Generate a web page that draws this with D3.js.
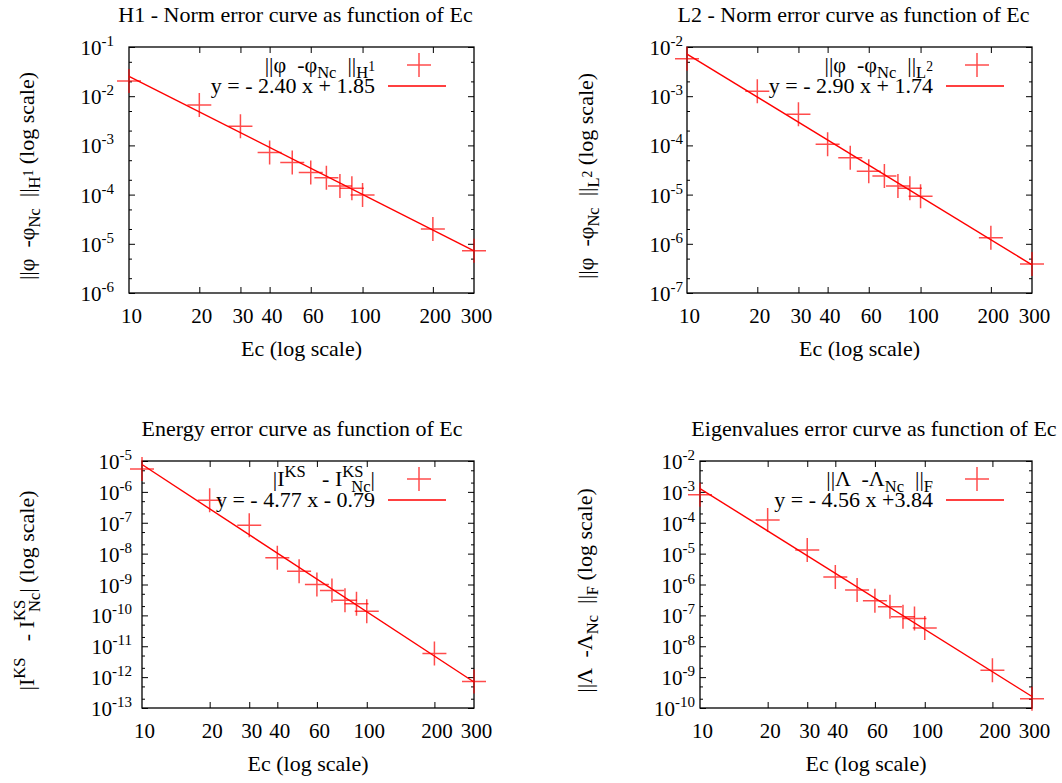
<!DOCTYPE html>
<html>
<head>
<meta charset="utf-8">
<script src="https://cdn.jsdelivr.net/npm/d3@7"></script>
<style>
  body { margin: 0; background: #fff; }
  #chart, #chart text, #chart tspan { font-family: 'Liberation Serif', 'Times New Roman', Times, serif !important; }
  #chart text { fill: #000; white-space: pre; }
</style>
</head>
<body>
<svg id="chart" width="1062" height="783" font-family="Liberation Serif"></svg>
<script>
// Convergence curves vs cutoff energy Ec (log-log), four gnuplot-style panels

const ecValues = [10, 20, 30, 40, 50, 60, 70, 80, 90, 100, 200, 300];
const xTickValues = [10, 20, 30, 40, 60, 100, 200, 300];

const h1Errors = [2.04e-2, 6.6e-3, 2.45e-3, 7.2e-4, 4.5e-4, 2.8e-4, 2.2e-4, 1.5e-4, 1.35e-4, 9.8e-5, 2.0e-5, 7.2e-6];
const l2Errors = [5.8e-3, 1.26e-3, 4.3e-4, 1.06e-4, 5.6e-5, 3.0e-5, 2.4e-5, 1.5e-5, 1.35e-5, 9.3e-6, 1.32e-6, 3.9e-7];
const energyErrors = [5.5e-6, 5.4e-7, 8.3e-8, 7.4e-9, 2.7e-9, 1.0e-9, 6.4e-10, 3.1e-10, 2.4e-10, 1.37e-10, 5.8e-12, 7.2e-13];
const eigErrors = [8.0e-4, 1.23e-4, 1.31e-5, 1.74e-6, 6.6e-7, 3.0e-7, 1.9e-7, 9.0e-8, 7.9e-8, 3.9e-8, 1.66e-9, 2.0e-10];

// fits: ln(err) = slope * ln(Ec) + intercept
const h1Fit = [-2.40, 1.85];
const l2Fit = [-2.90, 1.74];
const energyFit = [-4.77, -0.79];
const eigFit = [-4.56, 3.84];

const titles = [
  'H1 - Norm error curve as function of Ec',
  'L2 - Norm error curve as function of Ec',
  'Energy error curve as function of Ec',
  'Eigenvalues error curve as function of Ec'
];
const fitLabels = ['y = - 2.40 x + 1.85', 'y = - 2.90 x + 1.74', 'y = - 4.77 x - 0.79', 'y = - 4.56 x +3.84'];
const yExponents = [[-6, -1], [-7, -2], [-13, -5], [-10, -2]];

// rich-text pieces: [text, level, dx]
const normLabels = [
  [['||φ  -φ', 'n'], ['Nc', 'sub'], ['  ||', 'n'], ['H', 'sub'], ['1', 'subsup']],
  [['||φ  -φ', 'n'], ['Nc', 'sub'], ['  ||', 'n'], ['L', 'sub'], ['2', 'subsup']],
  [['|I', 'n'], ['KS', 'sup'], ['   - I', 'n'], ['KS', 'sup'], ['Nc', 'sub', -12], ['|', 'n']],
  [['||Λ  -Λ', 'n'], ['Nc', 'sub'], ['  ||', 'n'], ['F', 'sub']]
];

const series = [h1Errors, l2Errors, energyErrors, eigErrors];
const fits = [h1Fit, l2Fit, energyFit, eigFit];

const layout = [
  { left: 129, right: 474, top: 47, bottom: 293, labGap: 15, yLab: 95, tShift: -6 },
  { left: 687, right: 1032, top: 47, bottom: 293, labGap: 4, yLab: 94, tShift: -6 },
  { left: 142, right: 474, top: 461, bottom: 708, labGap: 10, yLab: 108, tShift: -6 },
  { left: 700, right: 1032, top: 461, bottom: 708, labGap: 5, yLab: 108, tShift: 8 }
];

const RED = '#ff0000';
const FS = 22;
const TICK_FS = 21;
const SERIF = "'Liberation Serif', 'Times New Roman', Times, serif";
const svg = d3.select('#chart');

function rich(text, parts, base) {
  let cur = 0;
  parts.forEach(p => {
    const lvl = p[1];
    const off = lvl === 'sub' ? 6 : lvl === 'sup' ? -9 : lvl === 'subsup' ? -1 : 0;
    const size = lvl === 'n' ? base : lvl === 'subsup' ? base * 0.62 : base * 0.75;
    const ts = text.append('tspan').attr('dy', off - cur).attr('font-size', size).text(p[0]);
    if (p[2]) ts.attr('dx', p[2]);
    cur = off;
  });
  if (cur !== 0) text.append('tspan').attr('dy', -cur).text('');
}

layout.forEach((L, i) => {
  const g = svg.append('g');
  const x = d3.scaleLog().domain([10, 300]).range([L.left, L.right]);
  const [e0, e1] = yExponents[i];
  const y = d3.scaleLog().domain([Math.pow(10, e0), Math.pow(10, e1)]).range([L.bottom, L.top]);

  const decades = d3.range(e0, e1 + 1).map(e => Math.pow(10, e));
  const minors = [];
  d3.range(e0, e1).forEach(e => { minors.push(2 * Math.pow(10, e), 5 * Math.pow(10, e)); });
  const innerX = xTickValues.filter(v => v > 10 && v < 300);

  // ticks
  const addAxis = (axis, tx, ty) => {
    const a = g.append('g').attr('transform', `translate(${tx},${ty})`).call(axis);
    a.attr('font-family', SERIF);
    a.select('.domain').remove();
    a.selectAll('.tick line').attr('stroke', '#000').attr('stroke-width', 1);
    return a;
  };
  addAxis(d3.axisLeft(y).tickValues(decades).tickSizeInner(-6).tickSizeOuter(0).tickFormat(''), L.left, 0);
  addAxis(d3.axisLeft(y).tickValues(minors).tickSizeInner(-3).tickSizeOuter(0).tickFormat(''), L.left, 0);
  addAxis(d3.axisRight(y).tickValues(decades).tickSizeInner(-6).tickSizeOuter(0).tickFormat(''), L.right, 0);
  addAxis(d3.axisRight(y).tickValues(minors).tickSizeInner(-3).tickSizeOuter(0).tickFormat(''), L.right, 0);
  addAxis(d3.axisTop(x).tickValues(innerX).tickSizeInner(-6).tickSizeOuter(0).tickFormat(''), 0, L.top);
  const xb = addAxis(d3.axisBottom(x).tickValues(xTickValues).tickSizeInner(-6).tickSizeOuter(0)
    .tickPadding(15).tickFormat(d3.format('d')), 0, L.bottom);
  xb.selectAll('.tick line').filter(d => d === 10 || d === 300).remove();
  xb.selectAll('.tick text').attr('font-size', TICK_FS).attr('fill', '#000').attr('dx', 2)
    .style('font-family', SERIF);

  // y tick labels 10^n
  decades.forEach((v, k) => {
    const t = g.append('text').attr('x', L.left - L.labGap).attr('y', y(v) + 8)
      .attr('text-anchor', 'end').attr('font-size', TICK_FS).style('font-family', SERIF);
    t.append('tspan').text('10');
    t.append('tspan').attr('dy', -9).attr('font-size', 15).text(String(e0 + k));
  });

  // frame
  g.append('rect').attr('x', L.left).attr('y', L.top)
    .attr('width', L.right - L.left).attr('height', L.bottom - L.top)
    .attr('fill', 'none').attr('stroke', '#000').attr('stroke-width', 1.3);

  // fit line
  const [a, b] = fits[i];
  const fitPts = [10, 300].map(e => [e, Math.exp(b + a * Math.log(e))]);
  g.append('path').datum(fitPts)
    .attr('d', d3.line().x(d => x(d[0])).y(d => y(d[1])))
    .attr('fill', 'none').attr('stroke', RED).attr('stroke-width', 1.4);

  // points
  const cross = (cx, cy) => `M${cx - 12},${cy}H${cx + 12}M${cx},${cy - 12}V${cy + 12}`;
  g.append('g').selectAll('path').data(ecValues.map((e, k) => [e, series[i][k]])).join('path')
    .attr('d', d => cross(x(d[0]), y(d[1])))
    .attr('fill', 'none').attr('stroke', RED).attr('stroke-opacity', 0.7).attr('stroke-width', 1.5);

  // legend
  const row1 = L.top + 18, row2 = L.top + 39;
  const lt = g.append('text').attr('x', L.right - 99).attr('y', row1 + 7)
    .attr('text-anchor', 'end').attr('font-size', FS).style('font-family', SERIF);
  rich(lt, normLabels[i], FS);
  g.append('path').attr('d', cross(L.right - 55, row1))
    .attr('fill', 'none').attr('stroke', RED).attr('stroke-opacity', 0.7).attr('stroke-width', 1.5);
  g.append('text').attr('x', L.right - 99).attr('y', row2 + 7)
    .attr('text-anchor', 'end').attr('font-size', FS).style('font-family', SERIF).text(fitLabels[i]);
  g.append('line').attr('x1', L.right - 86).attr('x2', L.right - 28).attr('y1', row2).attr('y2', row2)
    .attr('stroke', RED).attr('stroke-width', 1.4);

  // titles and axis labels
  const mid = (L.left + L.right) / 2;
  g.append('text').attr('x', mid + L.tShift).attr('y', L.top - 25.5)
    .attr('text-anchor', 'middle').attr('font-size', FS).style('font-family', SERIF).text(titles[i]);
  g.append('text').attr('x', mid).attr('y', L.bottom + 63)
    .attr('text-anchor', 'middle').attr('font-size', FS).style('font-family', SERIF).text('Ec (log scale)');
  const cy = (L.top + L.bottom) / 2 + 6;
  const yl = g.append('text').attr('transform', `translate(${L.left - L.yLab},${cy}) rotate(-90)`)
    .attr('text-anchor', 'middle').attr('font-size', FS).style('font-family', SERIF);
  rich(yl, normLabels[i].concat([[' (log scale)', 'n']]), FS);
});
</script>
</body>
</html>
